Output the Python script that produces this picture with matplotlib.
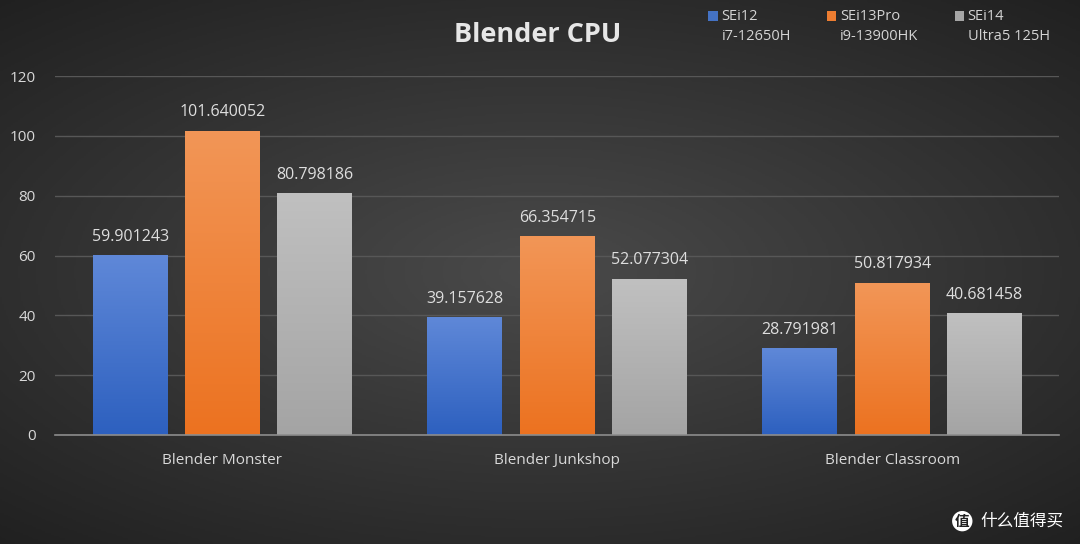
import numpy as np
import matplotlib.pyplot as plt
from matplotlib.colors import LinearSegmentedColormap

categories = ['Blender Monster', 'Blender Junkshop', 'Blender Classroom']
series_names = ['SEi12\ni7-12650H', 'SEi13Pro\ni9-13900HK', 'SEi14\nUltra5 125H']
sei12 = [59.901243, 39.157628, 28.791981]
sei13pro = [101.640052, 66.354715, 50.817934]
sei14 = [80.798186, 52.077304, 40.681458]
series = [sei12, sei13pro, sei14]

# colores (arriba, abajo) para el degradado de cada barra
grad_colors = [('#5f88d8', '#2d60bf'), ('#f29657', '#ec7220'), ('#c0c0c0', '#a4a4a4')]
legend_colors = ['#4472c4', '#ed7d31', '#a5a5a5']

plt.rcParams['font.family'] = ['Open Sans', 'DejaVu Sans']

fig = plt.figure(figsize=(10.8, 5.44), dpi=100)

# fondo con degradado radial
bg = fig.add_axes([0, 0, 1, 1], zorder=-10)
yy, xx = np.mgrid[-1:1:300j, -1:1:600j]
r = np.sqrt((xx / 1.1) ** 2 + (yy / 1.0) ** 2)
bg_cmap = LinearSegmentedColormap.from_list('bg', ['#4a4a4a', '#333333', '#1c1c1c'])
bg.imshow(r, cmap=bg_cmap, aspect='auto', extent=[0, 1, 0, 1], vmin=0, vmax=1.5)
bg.axis('off')

ax = fig.add_axes([0.051, 0.2004, 0.930, 0.6596])
ax.set_facecolor('none')

x = np.arange(len(categories))
width = 0.224
offsets = [-0.276, 0, 0.276]
for vals, off, (ctop, cbot) in zip(series, offsets, grad_colors):
    bars = ax.bar(x + off, vals, width, color='none', zorder=3)
    cmap = LinearSegmentedColormap.from_list('g', [cbot, ctop])
    for b, v in zip(bars, vals):
        x0, w, h = b.get_x(), b.get_width(), b.get_height()
        grad = np.linspace(0, 1, 256).reshape(-1, 1)
        ax.imshow(grad, cmap=cmap, aspect='auto', origin='lower',
                  extent=[x0, x0 + w, 0, h], zorder=3)
        ax.text(x0 + w / 2, h + 3.6, str(v),
                ha='center', va='bottom', color='#dedede', fontsize=11.5)

ax.set_xlim(-0.5, 2.5)
ax.set_ylim(0, 120)
ax.set_yticks(range(0, 121, 20))
ax.set_xticks(x)
ax.set_xticklabels(categories)
ax.tick_params(axis='both', length=0, colors='#d9d9d9', labelsize=11)
ax.tick_params(axis='x', pad=13)
ax.tick_params(axis='y', pad=14)
ax.grid(axis='y', color='#575757', linewidth=1.0, zorder=0)
for s in ['top', 'right', 'left']:
    ax.spines[s].set_visible(False)
ax.spines['bottom'].set_color('#8c8c8c')
ax.spines['bottom'].set_linewidth(1.2)
ax.spines['bottom'].set_zorder(4)

title = fig.text(0.498, 0.935, 'Blender CPU', ha='center', va='center',
                 color='#e6e6e6', fontsize=19.5, fontweight='bold')

# leyenda manual
leg_x = [0.656, 0.766, 0.884]
for lx, name, c in zip(leg_x, series_names, legend_colors):
    fig.patches.append(plt.Rectangle((lx, 0.961), 0.0085, 0.018, transform=fig.transFigure,
                                     facecolor=c, edgecolor='none'))
    l1, l2 = name.split('\n')
    fig.text(lx + 0.012, 0.970, l1, ha='left', va='center', color='#d4d4d4', fontsize=10.5)
    fig.text(lx + 0.012, 0.932, l2, ha='left', va='center', color='#d4d4d4', fontsize=10.5)

# marca de agua
fig.text(0.891, 0.042, '值', ha='center', va='center', color='#222222', fontsize=10.5,
         fontweight='bold', family=['Noto Sans CJK SC', 'DejaVu Sans'],
         bbox=dict(boxstyle='circle,pad=0.15', facecolor='white', edgecolor='none'))
fig.text(0.908, 0.042, '什么值得买', ha='left', va='center', color='white', fontsize=12,
         family=['Noto Sans CJK SC', 'DejaVu Sans'])

plt.savefig('out.png', dpi=100)
